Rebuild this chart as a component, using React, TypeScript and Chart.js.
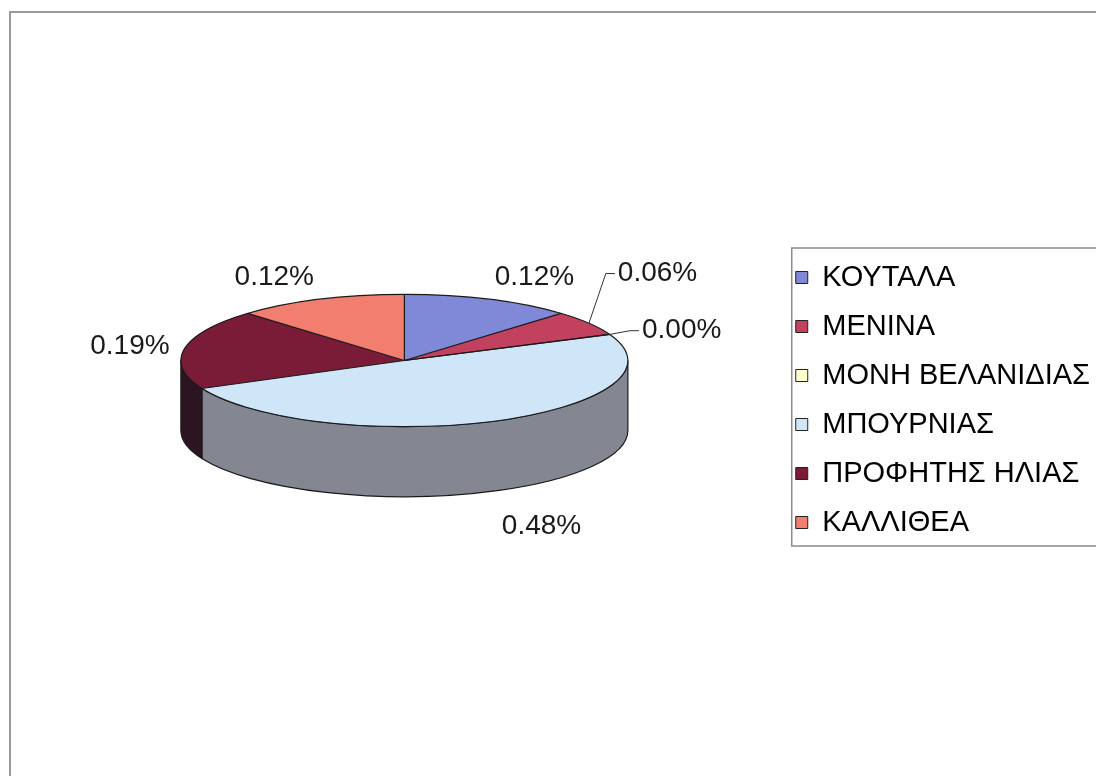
import React, { useEffect, useRef } from 'react';
import { Chart, registerables } from 'chart.js';

Chart.register(...registerables);

const categories = ['ΚΟΥΤΑΛΑ', 'ΜΕΝΙΝΑ', 'ΜΟΝΗ ΒΕΛΑΝΙΔΙΑΣ', 'ΜΠΟΥΡΝΙΑΣ', 'ΠΡΟΦΗΤΗΣ ΗΛΙΑΣ', 'ΚΑΛΛΙΘΕΑ'];
const values = [0.12, 0.06, 0.0, 0.48, 0.19, 0.12];
const topColors = ['#8088d8', '#c2415f', '#ffffcc', '#cfe6f8', '#7a1c38', '#f27e70'];
const sideColors = ['#4a5090', '#802840', '#a0a080', '#848792', '#2c1420', '#a05048'];

const TILT = 0.296;
const DEPTH = 70;
const SMALL_SHARE = 0.08;
const FONT = '"Liberation Sans", Arial, sans-serif';
const CANVAS_W = 1106;
const CANVAS_H = 776;

const pie3d = {
  id: 'pie3d',
  beforeDatasetsDraw(chart: any) {
    const meta = chart.getDatasetMeta(0);
    const arcs = meta.data;
    if (!arcs.length) return;
    const ctx = chart.ctx;
    const cx = arcs[0].x, cy = arcs[0].y, r = arcs[0].outerRadius;
    const ry = r * TILT;
    ctx.save();
    ctx.lineWidth = 1.2;
    ctx.strokeStyle = '#1a1a1a';
    arcs.forEach((arc: any, i: number) => {
      const a0 = Math.max(arc.startAngle, 0);
      const a1 = Math.min(arc.endAngle, Math.PI);
      if (a1 <= a0) return;
      ctx.beginPath();
      ctx.ellipse(cx, cy, r, ry, 0, a0, a1, false);
      ctx.lineTo(cx + r * Math.cos(a1), cy + ry * Math.sin(a1) + DEPTH);
      ctx.ellipse(cx, cy + DEPTH, r, ry, 0, a1, a0, true);
      ctx.closePath();
      ctx.fillStyle = sideColors[i];
      ctx.fill();
      ctx.stroke();
    });
    ctx.restore();
    ctx.save();
    ctx.translate(cx, cy);
    ctx.scale(1, TILT);
    ctx.translate(-cx, -cy);
  },
  afterDatasetsDraw(chart: any) {
    const ctx = chart.ctx;
    ctx.restore();
    const meta = chart.getDatasetMeta(0);
    const arcs = meta.data;
    if (!arcs.length) return;
    const cx = arcs[0].x, cy = arcs[0].y, r = arcs[0].outerRadius;
    const ry = r * TILT;
    ctx.save();
    ctx.lineWidth = 1.2;
    ctx.strokeStyle = '#1a1a1a';
    ctx.beginPath();
    ctx.ellipse(cx, cy, r, ry, 0, 0, Math.PI * 2);
    ctx.stroke();
    arcs.forEach((arc: any) => {
      ctx.beginPath();
      ctx.moveTo(cx, cy);
      ctx.lineTo(cx + r * Math.cos(arc.startAngle), cy + ry * Math.sin(arc.startAngle));
      ctx.stroke();
    });

    // data labels
    const total = values.reduce((a, b) => a + b, 0);
    ctx.font = `28px ${FONT}`;
    ctx.fillStyle = '#1a1a1a';
    ctx.lineWidth = 1;
    ctx.strokeStyle = '#333';
    arcs.forEach((arc: any, i: number) => {
      const mid = (arc.startAngle + arc.endAngle) / 2;
      const c = Math.cos(mid), s = Math.sin(mid);
      const text = values[i].toFixed(2) + '%';
      const share = values[i] / total;
      if (share < SMALL_SHARE) {
        const dir = c >= 0 ? 1 : -1;
        const ex = cx + r * c, ey = cy + ry * s;
        const lift = Math.sign(s) * Math.max(0, Math.abs(s) - 0.38) * 270;
        const lx = ex + c * 35, ly = ey + lift;
        ctx.beginPath();
        ctx.moveTo(ex, ey);
        ctx.lineTo(lx - dir * 12, ly);
        ctx.lineTo(lx - dir * 3, ly);
        ctx.stroke();
        ctx.textAlign = dir > 0 ? 'left' : 'right';
        ctx.textBaseline = 'middle';
        ctx.fillText(text, lx, ly);
      } else {
        const ax = cx + (r + 15) * c;
        const ay = cy + (ry + 15) * s + (s > 0 ? DEPTH + 8 : 0);
        ctx.textAlign = c > 0.2 ? 'left' : c < -0.2 ? 'right' : 'center';
        ctx.textBaseline = s < -0.5 ? 'alphabetic' : s > 0.5 ? 'top' : 'middle';
        ctx.fillText(text, ax, ay);
      }
    });
    ctx.restore();
  },
  afterDraw(chart: any) {
    const lg = chart.legend;
    if (!lg || !lg.legendHitBoxes || !lg.legendHitBoxes.length) return;
    const boxes = lg.legendHitBoxes;
    const first = boxes[0];
    const last = boxes[boxes.length - 1];
    const ctx = chart.ctx;
    ctx.save();
    ctx.strokeStyle = '#8a8a8a';
    ctx.lineWidth = 1.5;
    const left = first.left - 4;
    const top = first.top - 15;
    const bottom = last.top + last.height + 9;
    ctx.strokeRect(left, top, chart.width + 20 - left, bottom - top);
    ctx.restore();
  },
};

export default function App() {
  const ref = useRef<HTMLCanvasElement>(null);
  useEffect(() => {
    const chart = new Chart(ref.current as HTMLCanvasElement, {
      type: 'pie',
      data: {
        labels: categories,
        datasets: [
          {
            data: values,
            backgroundColor: topColors,
            borderWidth: 0,
            radius: 223.5,
            clip: false,
          } as any,
        ],
      },
      options: {
        responsive: false,
        animation: false,
        events: [],
        layout: { padding: { top: 164, bottom: 219, left: 33, right: 6 } },
        plugins: {
          tooltip: { enabled: false },
          legend: {
            position: 'right',
            align: 'end',
            labels: {
              font: { family: FONT, size: 29 },
              color: '#111',
              boxWidth: 12,
              boxHeight: 12,
              padding: 20,
              generateLabels: () =>
                categories.map((c, i) => ({
                  text: c,
                  fillStyle: topColors[i],
                  strokeStyle: '#222',
                  lineWidth: 1,
                  hidden: false,
                  index: i,
                  datasetIndex: 0,
                })),
            },
          },
        },
      } as any,
      plugins: [pie3d],
    });
    return () => chart.destroy();
  }, []);
  return (
    <div style={{ position: 'fixed', left: 0, top: 0, width: 1096, height: 776, overflow: 'hidden', background: '#fff' }}>
      <div
        style={{
          position: 'absolute',
          left: 9,
          top: 11,
          width: 1200,
          height: 900,
          borderTop: '2px solid #9a9a9a',
          borderLeft: '2px solid #9a9a9a',
        }}
      />
      <canvas
        ref={ref}
        width={CANVAS_W}
        height={CANVAS_H}
        style={{ position: 'absolute', left: 0, top: 0, width: CANVAS_W, height: CANVAS_H }}
      />
    </div>
  );
}
